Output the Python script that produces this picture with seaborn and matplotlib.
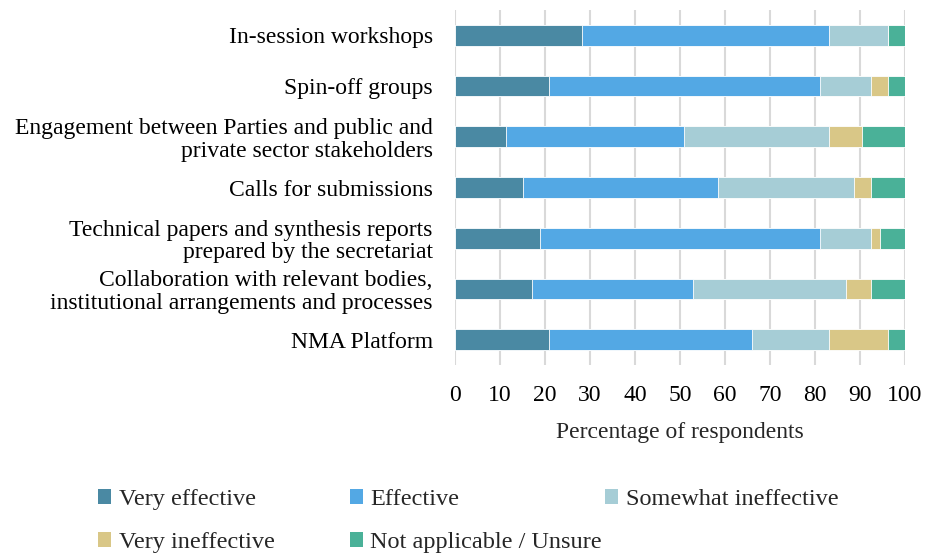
import matplotlib
matplotlib.use("Agg")
import matplotlib.pyplot as plt
import seaborn as sns
import pandas as pd
from matplotlib.patches import Patch

categories = [
    "In-session workshops",
    "Spin-off groups",
    "Engagement between Parties and public and\nprivate sector stakeholders",
    "Calls for submissions",
    "Technical papers and synthesis reports\nprepared by the secretariat",
    "Collaboration with relevant bodies,\ninstitutional arrangements and processes",
    "NMA Platform",
]
series = ["Very effective", "Effective", "Somewhat ineffective",
          "Very ineffective", "Not applicable / Unsure"]

very_effective = [28.3, 20.8, 11.3, 15.1, 18.9, 17.0, 20.8]
effective = [54.7, 60.4, 39.6, 43.4, 62.3, 35.8, 45.3]
somewhat_ineffective = [13.2, 11.3, 32.1, 30.2, 11.3, 34.0, 17.0]
very_ineffective = [0.0, 3.8, 7.5, 3.8, 1.9, 5.7, 13.2]
not_applicable = [3.8, 3.8, 9.4, 7.5, 5.7, 7.5, 3.8]

colors = ["#4A89A3", "#53A8E4", "#A6CDD6", "#D9C787", "#4AB198"]
x_ticks = list(range(0, 101, 10))

df = pd.DataFrame({
    "category": categories,
    series[0]: very_effective,
    series[1]: effective,
    series[2]: somewhat_ineffective,
    series[3]: very_ineffective,
    series[4]: not_applicable,
})

sns.set_theme(style="white")
plt.rcParams["font.family"] = ["Liberation Serif", "DejaVu Serif"]
FS = 17

fig = plt.figure(figsize=(9.25, 5.54), dpi=100)
ax = fig.add_axes([0.4919, 0.341, 0.4865, 0.641])

# stacked bars: draw running totals from the longest down so each segment shows
cum = df[series].cumsum(axis=1)
for name, col in reversed(list(zip(series, colors))):
    sns.barplot(x=cum[name], y=df["category"], orient="h", color=col,
                saturation=1, width=0.41, edgecolor="white", linewidth=0.6,
                ax=ax, zorder=3)

ax.set_xlim(0, 100)
ax.set_ylim(6.5, -0.5)
ax.set_xticks(x_ticks)
ax.xaxis.grid(True, color="#D9D9D9", linewidth=1.5, zorder=0)
ax.yaxis.grid(False)
for s in ax.spines.values():
    s.set_visible(False)
ax.tick_params(axis="both", length=0, labelsize=FS, colors="#000000")
ax.tick_params(axis="x", pad=14)
ax.tick_params(axis="y", pad=16)
for lbl in ax.get_yticklabels():
    lbl.set_linespacing(1.1)
ax.set_ylabel("")
ax.set_xlabel("Percentage of respondents", fontsize=FS, labelpad=12)

# legend laid out in three evenly spaced columns below the plot
handles = [Patch(facecolor=c, edgecolor="none") for c in colors]
columns = [[0, 3], [1, 4], [2]]
col_x = [0.106, 0.378, 0.654]
for xpos, idx in zip(col_x, columns):
    fig.legend([handles[i] for i in idx], [series[i] for i in idx],
               loc="upper left", bbox_to_anchor=(xpos, 0.117), ncol=1,
               frameon=False, fontsize=17.5, handlelength=0.55,
               handleheight=0.55, handletextpad=0.3, labelspacing=0.9,
               borderaxespad=0, borderpad=0)

fig.savefig("out.png", dpi=100)
